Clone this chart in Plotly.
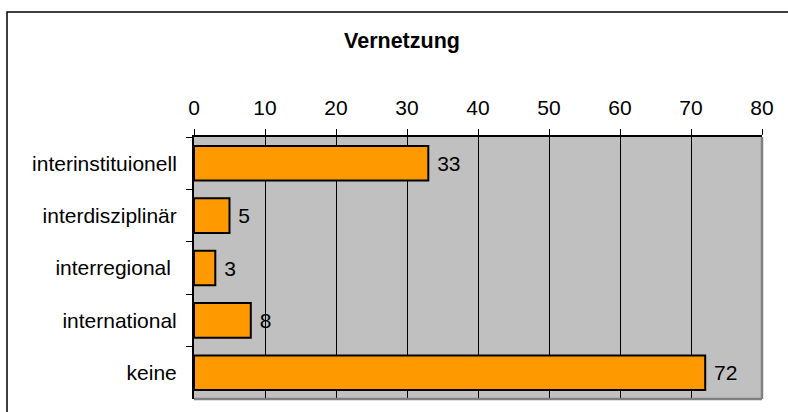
import plotly.graph_objects as go

categories = ["interinstituionell", "interdisziplinär", "interregional\u00a0", "international", "keine"]
values = [33, 5, 3, 8, 72]
x_ticks = [0, 10, 20, 30, 40, 50, 60, 70, 80]

W, H = 788, 412
L, R, T, B = 194, 762, 137, 399
pw, ph = R - L, B - T

FONT = "Liberation Sans, Arial, sans-serif"

fig = go.Figure(go.Bar(
    y=categories, x=values, orientation="h",
    marker=dict(color="#FF9900", line=dict(color="black", width=2)),
    text=[" " + str(v) for v in values], textposition="outside",
    textfont=dict(size=21, color="black", family=FONT),
    cliponaxis=False, width=0.66, hoverinfo="skip",
))

fig.update_layout(
    width=W, height=H,
    margin=dict(l=L, r=W - R, t=T, b=H - B, pad=0),
    paper_bgcolor="white", plot_bgcolor="#C0C0C0",
    font=dict(family=FONT, size=21, color="black"),
    showlegend=False,
    title=dict(text="<b>Vernetzung</b>", x=402 / W, xref="container",
               xanchor="center", y=1 - 40 / H, yanchor="middle",
               font=dict(size=21.5, family=FONT, color="black")),
    xaxis=dict(side="top", range=[0, 80], tickvals=x_ticks, showgrid=True,
               gridcolor="black", gridwidth=1, showline=True, linecolor="black",
               linewidth=2, ticks="outside", ticklen=6, tickcolor="black",
               tickfont=dict(size=21), zeroline=False, ticklabelstandoff=6),
    yaxis=dict(autorange="reversed", showline=True, linecolor="black", linewidth=2,
               ticks="outside", ticklen=6, tickcolor="black", tickson="boundaries",
               tickfont=dict(size=21), showgrid=False, ticklabelstandoff=11),
    shapes=[
        dict(type="rect", xref="paper", yref="paper",
             x0=(7 - L) / pw, x1=(W + 20 - L) / pw,
             y0=(B - (H + 20)) / ph, y1=(B - 12) / ph,
             line=dict(color="black", width=1.5), fillcolor="rgba(0,0,0,0)", layer="below"),
        dict(type="line", xref="paper", yref="paper", x0=1, x1=1, y0=0, y1=1,
             line=dict(color="#808080", width=2.5), layer="above"),
        dict(type="line", xref="paper", yref="paper", x0=0, x1=1, y0=0, y1=0,
             line=dict(color="#808080", width=2.5), layer="above"),
    ],
)

fig.write_html("out.html", config={"displayModeBar": False},
               post_script="document.body.style.margin='0';document.body.style.overflow='hidden';")
